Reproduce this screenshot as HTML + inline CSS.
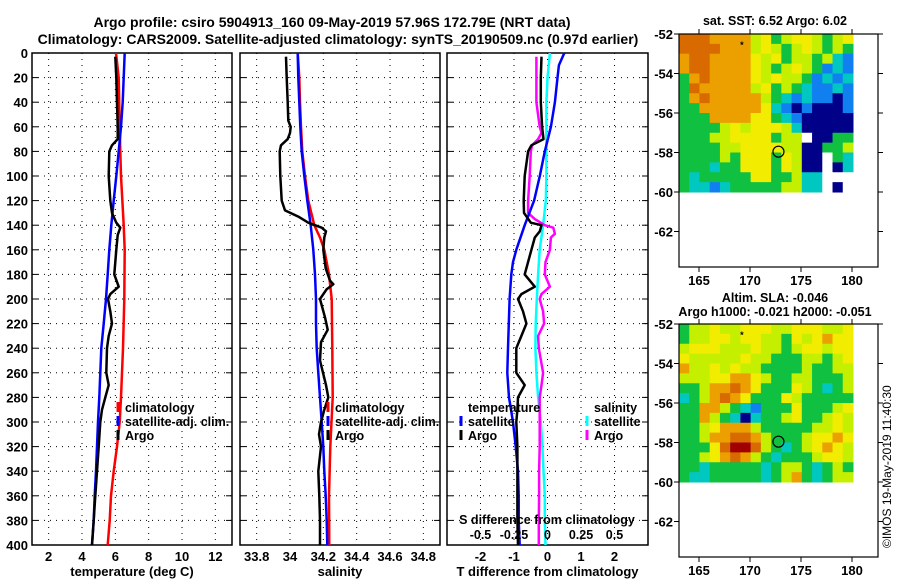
<!DOCTYPE html>
<html><head><meta charset="utf-8">
<style>
html,body{margin:0;padding:0;background:#fff;}
svg{display:block;font-family:"Liberation Sans",sans-serif;font-weight:bold;}
</style></head>
<body>
<svg id="chart" width="900" height="580" viewBox="0 0 900 580">
<text x="332" y="27" font-size="14" text-anchor="middle">Argo profile: csiro 5904913_160 09-May-2019 57.96S 172.79E (NRT data)</text>
<text x="338" y="44" font-size="14" text-anchor="middle">Climatology: CARS2009. Satellite-adjusted climatology: synTS_20190509.nc (0.97d earlier)</text>
<g id="panels"></g>
<g id="maps"></g>
<text x="891" y="548" font-size="12" font-weight="normal" transform="rotate(-90 891 548)">©IMOS 19-May-2019 11:40:30</text>
</svg>
<script>
// ---- data ----
const depthTicks=[0,20,40,60,80,100,120,140,160,180,200,220,240,260,280,300,320,340,360,380,400];
const tempTicks=[2,4,6,8,10,12];
const salTicks=[33.8,34,34.2,34.4,34.6,34.8];
const tdiffTicks=[-2,-1,0,1,2];
const sdiffTicks=[-0.5,-0.25,0,0.25,0.5];
const sdiffTickLabels=["-0.5","-0.25","0","0.25","0.5"];

const climTempDepth=[0,20,60,80,100,140,160,200,240,280,300,320,340,360,380,400];
const climTemp=[6.04,6.2,6.26,6.3,6.34,6.5,6.56,6.54,6.46,6.34,6.26,6.1,5.9,5.74,5.66,5.54];
const satTempDepth=[0,20,40,60,80,100,120,140,160,180,200,220,240,260,280,300,320,340,360,380,400];
const satTemp=[6.56,6.5,6.44,6.34,6.2,6.06,5.9,5.76,5.64,5.54,5.44,5.3,5.16,5.1,5.04,4.96,4.9,4.84,4.76,4.7,4.6];
const argoTempDepth=[3,20,40,60,70,75,80,100,120,130,138,142,148,160,180,190,196,200,210,220,230,240,260,270,280,290,300,320,340,360,380,400];
const argoTemp=[6.0,6.06,6.1,6.14,6.14,5.8,5.64,5.6,5.7,5.8,6.06,6.3,6.14,6.06,5.94,6.2,5.7,5.56,5.7,5.8,5.6,5.5,5.46,5.6,5.4,5.2,5.1,5.0,4.9,4.8,4.7,4.6];

const climSalDepth=[0,20,40,60,80,100,120,140,150,160,180,200,240,280,320,360,400];
const climSal=[34.046,34.056,34.06,34.066,34.074,34.09,34.11,34.146,34.18,34.206,34.234,34.25,34.254,34.256,34.242,34.234,34.236];
const satSalDepth=[0,20,40,60,80,100,120,140,160,180,200,220,240,260,280,300,320,340,360,380,400];
const satSal=[34.046,34.05,34.056,34.062,34.07,34.086,34.104,34.124,34.14,34.15,34.156,34.156,34.16,34.17,34.18,34.19,34.2,34.206,34.214,34.22,34.224];
const argoSalDepth=[3,20,40,55,60,65,70,75,80,100,120,128,133,138,142,145,150,160,175,185,188,192,200,215,225,235,250,270,280,290,300,310,320,340,360,380,400];
const argoSal=[33.976,33.98,33.986,33.99,34.004,34.0,33.986,33.946,33.938,33.942,33.95,33.97,34.05,34.11,34.19,34.216,34.206,34.2,34.214,34.24,34.26,34.22,34.18,34.21,34.226,34.186,34.18,34.216,34.23,34.206,34.186,34.174,34.186,34.17,34.176,34.18,34.18];

const satTdDepth=[0,10,20,40,60,80,100,120,140,160,170,180,200,240,260,280,300,320,340,360,380,400];
const satTd=[0.5,0.34,0.3,0.22,0.1,-0.08,-0.23,-0.4,-0.68,-0.93,-1.03,-1.08,-1.13,-1.18,-1.2,-1.15,-1.03,-0.95,-0.88,-0.86,-0.86,-0.83];
const argoTdDepth=[3,20,40,60,70,75,80,100,120,130,138,140,145,150,160,180,190,196,200,210,220,230,240,260,270,280,290,300,320,340,360,380,400];
const argoTd=[-0.18,-0.2,-0.2,-0.16,-0.12,-0.48,-0.58,-0.68,-0.71,-0.7,-0.5,-0.18,-0.23,-0.38,-0.48,-0.68,-0.38,-0.78,-0.88,-0.73,-0.63,-0.78,-0.93,-0.93,-0.68,-0.88,-0.9,-0.93,-0.9,-0.9,-0.9,-0.9,-0.88];
const argoSdDepth=[3,20,40,60,65,70,75,80,100,120,130,135,140,142,147,150,160,170,180,190,196,200,210,220,230,240,260,270,280,300,320,340,360,380,400];
const argoSd=[-0.083,-0.083,-0.083,-0.058,-0.045,-0.07,-0.115,-0.125,-0.133,-0.145,-0.145,-0.095,-0.02,0.043,0.055,0.025,0.018,-0.015,-0.02,0.018,-0.045,-0.058,-0.033,-0.025,-0.07,-0.065,-0.033,-0.045,-0.058,-0.058,-0.058,-0.063,-0.063,-0.065,-0.065];
const satSdDepth=[0,20,40,60,80,100,120,140,160,180,200,220,240,260,280,300,320,340,360,380,400];
const satSd=[0.018,0.0,-0.008,-0.008,-0.008,-0.008,-0.013,-0.033,-0.058,-0.07,-0.08,-0.088,-0.09,-0.083,-0.07,-0.05,-0.038,-0.03,-0.02,-0.02,-0.015];

const mapLatTicks=[-52,-54,-56,-58,-60,-62];
const mapLonTicks=[165,170,175,180];
const argoLon=172.79, argoLat=-57.96;
const sstGrid=[
"DDDOOOOLYGLYYLGLY","DDDDOOOLYLGLYLGLG","ODDOOOOYLYGLLGLCB","ODDOOOOYLGLYLGBCB",
"GODOOOOYLYLLGBCBC","GDOOOOOLYGLGCBBCB","GODOOOOOLGCBCBBNB","GGOOOOOOYCBNBNNNB",
"GGGOOOOYYGCBNNNNN","GGGGLYLYYYLCNNNNN","GGGLLYYYYGLLWNNGG","GGGGLLYYYYLLNNGGL",
"GGGGLGYYYGYLNNWGC","GGGCGGYYYGYLNNWNC","GCGGGGGYYGGLCCWWW","GCCBCGGGGGLLCCWNW"];
const slaGrid=[
"GLLYLLYYYLLYYYLLY","GLLYYLYYLLGYLYOYY","LYYYLLLYLLGLYYLYY","YLLLLLYLLGGGLLGLY",
"OLLYLYLLGGGGLGGLL","LLLYYOOYLGGLLGGGL","GGLOODOYGGGYLGCGL","CGLODOYGGGYLGGGGG",
"GGOOLGCBGGGYGGGLY","GGOLGCNCGGLYGGLYL","GGLYOOOLGGGGGLLYL","GGLOODDOLGGGLYYOY",
"GGGYDRRDLGCGLYOYL","GGLYODOLGCGGGLYYL","GGCGGGGGCGLLGCGLG","GCCGGGGGCGLOGCGLL"];

// ---- helpers ----
const NS="http://www.w3.org/2000/svg";
const root=document.getElementById('panels');
const mroot=document.getElementById('maps');
function mk(tag,attrs,parent){const e=document.createElementNS(NS,tag);for(const k in attrs)e.setAttribute(k,attrs[k]);(parent||root).appendChild(e);return e;}
const TOP=53,BOT=545;
function yDepth(d){return TOP+(d/400)*(BOT-TOP);}

function makePanel(L,R,x0,x1,ticks,tickLabels,xlabel,name){
  const xs=v=>L+(v-x0)/(x1-x0)*(R-L);
  const g=mk('g',{});
  
  
  depthTicks.forEach((d,i)=>{
    const y=yDepth(d);
    if(i>0&&i<depthTicks.length-1){
      const gl=mk('line',{x1:L,x2:R,y1:y,y2:y,stroke:'#000','stroke-width':1,'stroke-dasharray':'1 5'},g);
      
      
    }
    mk('line',{x1:L,x2:L+6,y1:y,y2:y,stroke:'#000'},g);
    mk('line',{x1:R-6,x2:R,y1:y,y2:y,stroke:'#000'},g);
    if(name==='temperature'){
      const t=mk('text',{x:28,y:y+5,'font-size':13,'text-anchor':'end'},g);
      t.textContent=d;
      
      
    }
  });
  ticks.forEach((v,i)=>{
    const x=xs(v);
    const gl=mk('line',{x1:x,x2:x,y1:TOP,y2:BOT,stroke:'#000','stroke-width':1,'stroke-dasharray':'1 5'},g);
    
    
    const t=mk('text',{x:x,y:561,'font-size':13,'text-anchor':'middle'},g);
    t.textContent=tickLabels[i];
    
    
  });
  const fr=mk('rect',{x:L,y:TOP,width:R-L,height:BOT-TOP,fill:'none',stroke:'#000','stroke-width':1.5},g);
  
  
  const xl=mk('text',{x:(L+R)/2,y:576,'font-size':13,'text-anchor':'middle'},g);
  xl.textContent=xlabel;
  
  
  return {g,xs};
}
function series(p,depths,vals,color,name,scale){
  const pts=vals.map((v,i)=>p.xs(v*(scale||1)).toFixed(1)+','+yDepth(depths[i]).toFixed(1)).join(' ');
  const pl=mk('polyline',{points:pts,fill:'none',stroke:color,'stroke-width':2.5,'stroke-linejoin':'round'},p.g);
  
  
}
function legendItem(g,x,y,color,label,name){
  if(color){mk('line',{x1:x-7,x2:x-7,y1:y-10,y2:y,stroke:color,'stroke-width':3},g);}
  const t=mk('text',{x:x,y:y,'font-size':12.5},g);
  t.textContent=label;
  
  
}

// panel 1
const p1=makePanel(32,232,1,13,tempTicks,tempTicks.map(String),'temperature (deg C)','temperature');
series(p1,climTempDepth,climTemp,'#ff0000','climatology-temperature-line');
series(p1,satTempDepth,satTemp,'#0000ff','satellite-temperature-line');
series(p1,argoTempDepth,argoTemp,'#000','argo-temperature-line');
legendItem(p1.g,125,412,'#ff0000','climatology','legend-climatology');
legendItem(p1.g,125,426,'#0000ff','satellite-adj. clim.','legend-satellite-adj');
legendItem(p1.g,125,440,'#000','Argo','legend-argo');

// panel 2
const p2=makePanel(240,440,33.7,34.9,salTicks,["33.8","34","34.2","34.4","34.6","34.8"],'salinity','salinity');
series(p2,climSalDepth,climSal,'#ff0000','climatology-salinity-line');
series(p2,satSalDepth,satSal,'#0000ff','satellite-salinity-line');
series(p2,argoSalDepth,argoSal,'#000','argo-salinity-line');
legendItem(p2.g,335,412,'#ff0000','climatology','legend-climatology');
legendItem(p2.g,335,426,'#0000ff','satellite-adj. clim.','legend-satellite-adj');
legendItem(p2.g,335,440,'#000','Argo','legend-argo');

// panel 3
const p3=makePanel(447,648,-3,3,tdiffTicks,tdiffTicks.map(String),'T difference from climatology','difference');
series(p3,satSdDepth,satSd,'#00ffff','satellite-salinity-diff-line',4);
series(p3,argoSdDepth,argoSd,'#ff00ff','argo-salinity-diff-line',4);
series(p3,satTdDepth,satTd,'#0000ff','satellite-temperature-diff-line');
series(p3,argoTdDepth,argoTd,'#000','argo-temperature-diff-line');
legendItem(p3.g,468,412,null,'temperature','legend-temperature-header');
legendItem(p3.g,468,426,'#0000ff','satellite','legend-temp-satellite');
legendItem(p3.g,468,440,'#000','Argo','legend-temp-argo');
legendItem(p3.g,594,412,null,'salinity','legend-salinity-header');
legendItem(p3.g,594,426,'#00ffff','satellite','legend-sal-satellite');
legendItem(p3.g,594,440,'#ff00ff','Argo','legend-sal-argo');
{
  const t=mk('text',{x:547,y:524,'font-size':12.5,'text-anchor':'middle'},p3.g);
  t.textContent='S difference from climatology';
  
  
  sdiffTicks.forEach((v,i)=>{
    const tt=mk('text',{x:p3.xs(v*4),y:539,'font-size':12.5,'text-anchor':'middle'},p3.g);
    tt.textContent=sdiffTickLabels[i];
    
    
  });
}

// ---- maps ----
const colors={D:'#d86a00',O:'#eba000',Y:'#f2ec00',L:'#c4f000',G:'#10c040',C:'#00c8c0',B:'#1080f0',N:'#000088',R:'#a00000',W:'#ffffff'};
function makeMap(top,grid,title1,title2,name){
  const L=679,R=878,H=233;
  const lonX=lon=>699+(lon-165)*10.2;
  const latY=lat=>top+(-52-lat)*19.75;
  const g=mk('g',{},mroot);
  
  
  const cw=(853-679)/17, ch=(latY(-60)-top)/16;
  grid.forEach((row,r)=>{
    for(let c=0;c<row.length;c++){
      mk('rect',{x:(L+c*cw).toFixed(2),y:(top+r*ch).toFixed(2),width:(cw+0.5).toFixed(2),height:(ch+0.5).toFixed(2),fill:colors[row[c]]},g);
    }
  });
  mk('rect',{x:L,y:top,width:R-L,height:H,fill:'none',stroke:'#000','stroke-width':1.2},g);
  mapLatTicks.forEach(v=>{
    const y=latY(v);
    mk('line',{x1:L-5,x2:L,y1:y,y2:y,stroke:'#000'},g);
    mk('line',{x1:R,x2:R+5,y1:y,y2:y,stroke:'#000'},g);
    const t=mk('text',{x:673,y:y+5,'font-size':13,'text-anchor':'end'},g);
    t.textContent=v;
    
    
  });
  mapLonTicks.forEach(v=>{
    const x=lonX(v);
    mk('line',{x1:x,x2:x,y1:top-5,y2:top,stroke:'#000'},g);
    mk('line',{x1:x,x2:x,y1:top+H,y2:top+H+5,stroke:'#000'},g);
    const t=mk('text',{x:x,y:top+H+18,'font-size':13,'text-anchor':'middle'},g);
    t.textContent=v;
    
    
  });
  const m=mk('circle',{cx:lonX(argoLon),cy:latY(argoLat),r:5.5,fill:'none',stroke:'#000','stroke-width':1.2},g);
  
  
  mk('text',{x:lonX(169.2),y:latY(-52.7),'font-size':9,'text-anchor':'middle'},g).textContent='*';
  const t1=mk('text',{x:775,y:title2?top-22:top-9,'font-size':12.5,'text-anchor':'middle'},g);
  t1.textContent=title1;
  
  
  if(title2){
    const t2=mk('text',{x:775,y:top-8,'font-size':12.5,'text-anchor':'middle'},g);
    t2.textContent=title2;
    
    
  }
}
makeMap(34,sstGrid,'sat. SST: 6.52 Argo: 6.02',null,'sst-map');
makeMap(324,slaGrid,'Altim. SLA: -0.046','Argo h1000: -0.021 h2000: -0.051','sla-map');
</script>
</body></html>
